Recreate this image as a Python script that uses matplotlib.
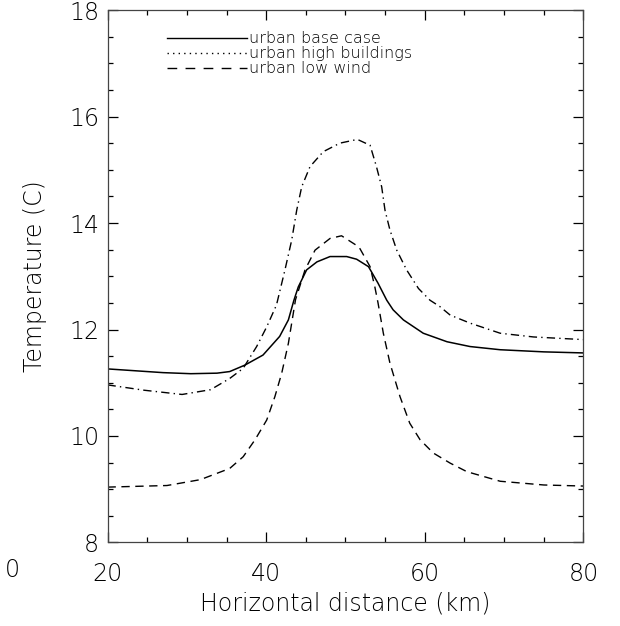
import matplotlib
matplotlib.use('Agg')
import matplotlib.pyplot as plt
from matplotlib.lines import Line2D
from matplotlib.ticker import MultipleLocator

# values
x_base = [20, 24, 27, 30.5, 33.8, 35.4, 37.3, 39.6, 41.7, 42.8, 43.5, 44.05, 45.1, 46.4, 48.05, 50.15,
          51.4, 52.9, 54.1, 55.2, 56.0, 57.3, 59.8, 62.8, 65.7, 69.5, 75, 80]
t_base = [11.26, 11.22, 11.19, 11.17, 11.18, 11.21, 11.33, 11.52, 11.87, 12.18, 12.55, 12.80, 13.12, 13.27, 13.37, 13.37,
          13.32, 13.18, 12.87, 12.55, 12.37, 12.18, 11.93, 11.77, 11.68, 11.62, 11.58, 11.56]

x_high = [20, 24.6, 29.4, 33.0, 35.4, 37.1, 38.8, 40.07, 41.3, 42.37, 43.22, 43.85, 44.48, 45.53, 47.2, 49.3,
          51.5, 53.1, 53.9, 54.56, 54.98, 55.6, 56.46, 57.7, 59.2, 60.65, 61.9, 63.2, 65.7, 69.5, 73.7, 80]
t_high = [10.96, 10.86, 10.78, 10.87, 11.08, 11.27, 11.68, 12.05, 12.46, 13.12, 13.68, 14.24, 14.68, 15.06, 15.34, 15.50,
          15.57, 15.46, 15.06, 14.68, 14.24, 13.87, 13.49, 13.12, 12.77, 12.55, 12.43, 12.27, 12.12, 11.93, 11.86, 11.81]

x_low = [20, 27.5, 31.7, 35.4, 37.1, 38.6, 40.07, 41.1, 41.96, 42.8, 43.7, 44.9, 46.16, 48.05, 49.5, 51.7,
         53.1, 53.7, 54.1, 54.77, 55.6, 56.87, 58.1, 59.4, 61.07, 63.2, 65.3, 69.5, 75, 80]
t_low = [9.04, 9.07, 9.18, 9.39, 9.61, 9.93, 10.30, 10.74, 11.18, 11.74, 12.56, 13.12, 13.49, 13.71, 13.76, 13.55,
         13.18, 12.80, 12.50, 11.93, 11.37, 10.74, 10.24, 9.93, 9.68, 9.49, 9.33, 9.15, 9.08, 9.06]

labels = ['urban base case', 'urban high buildings', 'urban low wind']

plt.rcParams['font.family'] = ['DejaVu Sans']
plt.rcParams['font.weight'] = 'light'
plt.rcParams['axes.labelweight'] = 'light'

fig = plt.figure(figsize=(6.2, 6.26), dpi=100)
ax = fig.add_axes([0.1734, 0.1334, 0.7677, 0.8506])

ax.plot(x_base, t_base, color='black', lw=1.1, ls='-')
ax.plot(x_high, t_high, color='black', lw=1.0, ls=(0, (6, 3, 1, 3)))
ax.plot(x_low, t_low, color='black', lw=1.0, ls=(0, (6, 4)))

ax.set_xlim(20, 80)
ax.set_ylim(8, 18)
ax.xaxis.set_major_locator(MultipleLocator(20))
ax.xaxis.set_minor_locator(MultipleLocator(5))
ax.yaxis.set_major_locator(MultipleLocator(2))
ax.yaxis.set_minor_locator(MultipleLocator(0.5))
ax.tick_params(which='both', direction='in', top=True, right=True, width=0.9, labelsize=17)
ax.tick_params(which='major', length=7)
ax.tick_params(which='minor', length=3.6)
ax.tick_params(axis='x', pad=14)
ax.tick_params(axis='y', pad=6)
for s in ax.spines.values():
    s.set_linewidth(0.9)
    s.set_color('#444444')

ax.set_xlabel('Horizontal distance (km)', fontsize=17, fontweight='light', labelpad=4)
ax.set_ylabel('Temperature (C)', fontsize=17, fontweight='light', labelpad=16)

handles = [Line2D([], [], color='black', lw=1.0, ls='-'),
           Line2D([], [], color='black', lw=1.0, ls=(0, (1, 3))),
           Line2D([], [], color='black', lw=1.0, ls=(0, (7, 6)))]
leg = ax.legend(handles, labels, loc='upper left', bbox_to_anchor=(0.126, 0.96),
                frameon=False, handlelength=5.0, handletextpad=0.1,
                labelspacing=0.0, borderpad=0, borderaxespad=0,
                prop={'weight': 'light', 'size': 11.5})

fig.text(0.008, 0.089, '0', fontsize=17, fontweight='light', va='center', ha='left')

fig.savefig('out.png', dpi=100)
